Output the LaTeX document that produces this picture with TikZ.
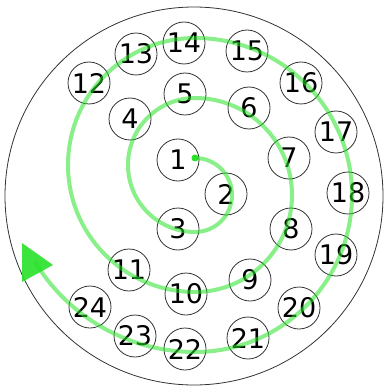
\documentclass[tikz,border=0pt]{standalone}
\usepackage{xcolor}
\usepackage{fontspec}
\setmainfont{DejaVu Sans}
\usepackage{tikz}

\definecolor{spiralgreen}{RGB}{40,225,40}
\definecolor{ringgray}{RGB}{50,50,50}

\tikzset{
  seat/.style={circle,draw=ringgray,line width=0.8pt,minimum size=42pt,inner sep=0pt,
               font=\fontsize{27}{27}\selectfont},
  spiral/.style={draw=spiralgreen,draw opacity=0.55,line width=4pt}
}

\begin{document}
\begin{tikzpicture}[x=1pt,y=1pt]
      \useasboundingbox (0,0) rectangle (383,-387);
      \draw[ringgray,line width=0.8pt] (194,-196) circle[radius=189pt];
      \node[seat] (n1)  at(178,-160){1};
      \node[seat] (n2)  at(226,-194){2};
      \node[seat] (n3)  at(178,-229){3};
      \node[seat] (n4)  at(130,-119){4};
      \node[seat] (n5)  at(185,-94){5};
      \node[seat] (n6)  at(249,-108){6};
      \node[seat] (n7)  at(289,-158){7};
      \node[seat] (n8)  at(291,-229){8};
      \node[seat] (n9)  at(250,-280){9};
      \node[seat] (n10) at(186,-294){10};
      \node[seat] (n11) at(129,-270){11};
      \node[seat] (n12) at(89,-83){12};
      \node[seat] (n13) at(136,-54){13};
      \node[seat] (n14) at(184,-43){14};
      \node[seat] (n15) at(247,-51){15};
      \node[seat] (n16) at(301,-83){16};
      \node[seat] (n17) at(336,-132){17};
      \node[seat] (n18) at(348,-193){18};
      \node[seat] (n19) at(336,-255){19};
      \node[seat] (n20) at(299,-308){20};
      \node[seat] (n21) at(248,-338){21};
      \node[seat] (n22) at(185,-349){22};
      \node[seat] (n23) at(135,-336){23};
      \node[seat] (n24) at(90,-307){24};
      % spiral of half circles, outward
      \coordinate (start) at(195,-158);
      \draw[spiral] (start)
        arc[start angle=90,end angle=-90,radius=37pt]
        arc[start angle=-90,end angle=-270,radius=67pt]
        arc[start angle=90,end angle=-90,radius=97pt]
        arc[start angle=-90,end angle=-270,radius=127pt]
        arc[start angle=90,end angle=-90,radius=157pt]
        arc[start angle=-90,end angle=-149,radius=187pt] coordinate (stop);
      \fill[spiralgreen] (start) circle[radius=3.5pt];
      \fill[spiralgreen,opacity=0.9] (22,-243) -- (53,-265) -- (22,-282) -- cycle;
    \end{tikzpicture}
\end{document}
